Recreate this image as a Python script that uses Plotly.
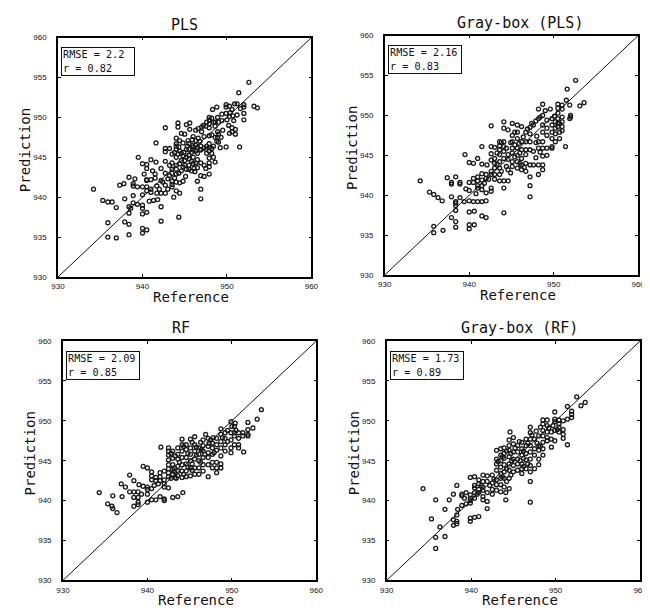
import plotly.graph_objects as go

axis_range = [930, 960]
x_ticks = [930, 940, 950, 960]
y_ticks = [930, 935, 940, 945, 950, 955, 960]

titles = ["PLS", "Gray-box (PLS)", "RF", "Gray-box (RF)"]
rmse_values = ["2.2", "2.16", "2.09", "1.73"]
r_values = ["0.82", "0.83", "0.85", "0.89"]

pls_pts = [
    (934.2, 941.0), (935.3, 939.6), (935.9, 939.4), (936.4, 939.4), (936.9, 938.7), (935.9, 936.8),
    (935.9, 935.0), (936.9, 934.9), (937.3, 941.5), (937.8, 941.7), (938.4, 942.5), (938.9, 941.7),
    (938.9, 941.4), (937.9, 939.8), (938.9, 940.2), (938.4, 938.8), (938.4, 938.0), (937.9, 936.9),
    (938.4, 936.6), (938.4, 935.3), (938.9, 939.3), (939.4, 939.1), (939.5, 945.0), (938.6, 938.6),
    (940.0, 944.2), (940.5, 944.1), (940.5, 943.6), (940.0, 941.3), (940.5, 941.3), (940.0, 940.3),
    (940.5, 940.8), (940.0, 939.0), (940.0, 938.6), (940.0, 937.9), (940.5, 938.1), (940.0, 936.1),
    (940.5, 935.9), (940.0, 935.5), (940.5, 942.2), (940.5, 942.1), (941.0, 941.0), (941.0, 940.6),
    (941.0, 942.2), (940.8, 939.5), (941.3, 939.6), (941.0, 944.7), (941.6, 944.4), (941.6, 946.8),
    (941.5, 942.9), (941.5, 942.4), (941.7, 941.4), (941.7, 940.5), (941.8, 939.7), (942.2, 943.6),
    (942.2, 942.1), (942.0, 941.0), (942.2, 940.5), (942.2, 938.8), (942.2, 937.0), (942.7, 948.7),
    (942.7, 946.1), (942.7, 945.7), (942.7, 944.5), (942.7, 943.0), (942.7, 941.5), (942.7, 940.5),
    (943.0, 942.3), (943.2, 944.0), (943.2, 946.1), (943.5, 945.4), (943.5, 944.3), (943.5, 943.5),
    (943.5, 942.0), (943.5, 941.3), (943.7, 940.0), (943.5, 943.0), (943.2, 942.7), (943.5, 941.6),
    (944.0, 947.4), (944.0, 946.7), (944.0, 946.0), (944.0, 945.0), (944.0, 944.0), (944.0, 943.5),
    (944.0, 942.9), (944.0, 941.9), (944.0, 940.8), (944.2, 949.3), (944.2, 948.8), (944.3, 937.5),
    (944.4, 940.5), (944.4, 941.8), (944.4, 947.1), (944.6, 945.5), (944.6, 944.6), (944.8, 943.8),
    (944.8, 942.0), (944.6, 948.0), (944.8, 946.8), (945.0, 947.9), (945.2, 949.1), (945.2, 945.0),
    (945.2, 943.5), (945.6, 949.3), (945.6, 948.5), (945.4, 947.1), (944.2, 945.4), (944.4, 944.2),
    (944.6, 943.3), (944.0, 946.4), (944.4, 945.8), (944.8, 945.2), (945.0, 944.6), (945.0, 944.0),
    (945.5, 946.7), (945.5, 946.0), (945.5, 945.3), (945.5, 944.8), (945.5, 944.0), (945.5, 943.5),
    (945.8, 943.3), (945.9, 946.5), (946.0, 945.9), (946.0, 945.0), (946.0, 944.2), (946.2, 943.2),
    (946.3, 948.4), (946.3, 947.1), (946.3, 946.5), (946.5, 945.5), (946.5, 942.0), (946.5, 943.7),
    (946.8, 947.0), (946.8, 946.0), (946.9, 941.0), (946.9, 939.8), (946.9, 942.7), (947.0, 948.8),
    (947.0, 948.2), (946.9, 945.9), (946.0, 946.3), (946.3, 945.8), (946.5, 946.2), (945.8, 945.6),
    (946.5, 944.7), (946.3, 944.3), (946.9, 946.4), (946.6, 947.4), (946.0, 947.6), (945.8, 944.5),
    (947.3, 947.6), (947.3, 946.2), (947.5, 948.9), (947.5, 946.0), (947.3, 944.0), (947.5, 943.6),
    (947.9, 950.0), (947.9, 949.7), (947.9, 949.2), (947.9, 948.7), (947.9, 947.7), (947.9, 946.7),
    (947.9, 945.8), (947.9, 944.9), (947.9, 944.3), (947.9, 943.8), (947.9, 942.9), (948.2, 947.8),
    (948.2, 945.5), (948.3, 951.0), (948.4, 949.4), (948.4, 946.4), (948.4, 945.0), (948.6, 948.9),
    (948.6, 947.5), (948.6, 944.4), (947.6, 946.4), (947.9, 946.2), (948.2, 946.1), (947.6, 945.5),
    (948.8, 951.3), (949.0, 949.4), (948.9, 948.2), (948.9, 947.5), (949.0, 946.9), (949.2, 946.2),
    (949.3, 947.5), (949.4, 949.6), (949.5, 948.4), (949.9, 951.6), (949.9, 951.3), (949.9, 950.5),
    (950.0, 949.7), (949.9, 946.3), (950.3, 951.4), (950.3, 950.1), (950.2, 949.0), (950.4, 950.6),
    (950.6, 948.7), (950.6, 948.2), (950.3, 948.0), (950.7, 950.2), (950.9, 951.7), (951.0, 948.5),
    (951.0, 947.9), (950.8, 949.6), (948.6, 949.4), (949.0, 947.9), (948.8, 947.0),
    (951.4, 953.1), (951.5, 946.3), (951.2, 950.3), (951.6, 951.1), (952.0, 951.6), (952.0, 951.3),
    (952.0, 950.5), (952.0, 949.7), (952.6, 954.4), (953.2, 951.4), (953.6, 951.2),
    (943.8, 945.6), (944.3, 946.3), (944.9, 945.6), (945.3, 946.4), (945.9, 947.2), (946.6, 948.6),
    (947.2, 949.0), (947.6, 949.4), (946.1, 943.6), (945.1, 942.6), (944.3, 943.0), (943.8, 942.4),
    (943.0, 941.0), (942.4, 941.9), (941.2, 943.3), (940.2, 942.9), (939.4, 941.3), (939.1, 942.3),
    (948.2, 949.9), (948.9, 950.0), (949.4, 950.4), (950.6, 951.0), (951.2, 951.7), (946.9, 944.3),
    (947.3, 942.6), (945.2, 946.0),
]

gb_pls_pts = [
    (934.2, 941.8), (935.3, 940.4), (935.8, 940.1), (936.3, 939.7), (936.8, 939.3), (935.8, 936.1),
    (935.8, 935.3), (936.9, 935.6), (937.4, 942.2), (937.9, 941.6), (937.9, 941.4), (938.4, 942.3),
    (938.9, 941.6), (938.9, 941.4), (937.9, 939.8), (938.9, 939.7), (938.4, 939.2), (938.4, 939.0),
    (938.4, 938.7), (938.4, 938.1), (937.9, 937.2), (938.4, 936.7), (938.4, 936.0), (939.5, 945.1),
    (940.0, 944.1), (940.5, 944.0), (940.0, 941.6), (940.0, 940.6), (940.0, 939.3), (939.4, 939.2),
    (940.5, 939.2), (941.0, 939.2), (941.5, 939.2), (942.0, 939.3), (940.0, 937.9), (940.6, 938.0),
    (940.0, 936.3), (940.6, 936.3), (940.0, 935.8), (941.5, 937.4), (942.0, 937.2),
    (940.5, 942.1), (940.5, 941.6), (941.0, 942.3), (941.0, 941.8), (941.0, 941.2), (941.0, 940.9),
    (941.5, 942.7), (941.5, 941.9), (941.5, 941.2), (941.5, 940.7), (942.0, 942.6), (942.0, 942.1),
    (942.0, 940.3), (941.5, 946.1), (941.0, 944.6), (941.5, 943.9), (942.1, 943.8),
    (942.6, 948.7), (942.6, 946.1), (942.6, 945.2), (942.6, 944.4), (942.6, 943.0), (942.6, 942.6),
    (942.6, 940.9), (942.6, 940.5), (943.0, 946.0), (943.0, 944.6), (943.0, 944.0), (943.0, 943.4),
    (943.0, 942.6), (943.0, 942.0), (943.6, 946.7), (943.6, 946.2), (943.6, 945.7), (943.6, 945.1),
    (943.6, 943.4), (943.6, 942.6), (943.6, 941.8), (944.1, 946.7), (944.1, 946.1), (944.1, 945.5),
    (944.1, 944.6), (944.1, 941.8), (944.1, 940.9), (944.1, 937.8), (944.1, 949.2), (944.1, 948.4),
    (944.6, 948.2), (944.6, 945.1), (944.6, 943.2), (944.6, 941.8), (943.3, 943.9), (943.6, 944.2),
    (945.1, 949.0), (945.1, 947.5), (945.1, 946.7), (945.1, 945.9), (945.1, 945.3), (945.1, 944.2),
    (945.1, 943.6), (945.7, 948.8), (945.7, 947.9), (945.7, 947.1), (945.7, 945.9), (945.7, 945.0),
    (945.7, 944.2), (945.7, 943.4), (946.2, 948.6), (946.2, 946.7), (946.2, 945.7), (946.2, 944.6),
    (946.2, 943.8), (946.2, 943.2), (946.7, 947.9), (946.7, 946.7), (946.7, 945.7), (946.7, 945.1),
    (946.7, 944.0), (946.7, 943.0), (944.6, 944.5), (945.4, 944.8), (946.0, 945.3), (945.4, 946.3),
    (947.2, 948.5), (947.2, 946.7), (947.2, 945.7), (947.2, 943.8), (947.2, 942.3), (947.2, 941.2),
    (947.2, 939.8), (947.2, 947.7), (947.6, 948.8), (947.6, 945.5), (947.6, 943.8), (948.2, 949.6),
    (948.2, 946.7), (948.2, 945.9), (948.2, 943.8), (948.2, 942.6), (948.7, 950.0), (948.7, 948.8),
    (948.7, 947.9), (948.7, 946.7), (948.7, 945.9), (948.7, 944.9), (948.7, 943.8), (948.7, 943.2),
    (949.2, 949.4), (949.2, 948.4), (949.2, 947.5), (949.2, 945.9), (949.2, 945.0), (949.8, 949.6),
    (949.8, 948.8), (949.8, 947.9), (949.8, 947.1), (949.8, 945.9), (950.2, 949.2), (950.2, 948.4),
    (950.2, 947.7), (950.2, 946.7), (950.7, 949.0), (950.7, 947.9), (950.7, 947.1), (949.8, 946.1),
    (948.2, 950.8), (948.7, 951.4), (947.9, 946.6), (948.0, 947.4), (948.4, 945.4), (947.9, 944.7),
    (950.5, 951.4), (950.5, 950.9), (950.5, 950.3), (950.5, 949.6), (950.5, 949.0), (950.5, 948.6),
    (951.0, 951.3), (951.0, 950.8), (951.0, 949.8), (951.0, 949.2), (951.0, 948.6), (951.0, 948.1),
    (951.5, 951.9), (951.9, 949.6), (951.9, 951.3), (952.0, 950.0), (952.0, 949.8), (951.4, 946.1),
    (951.6, 953.3), (952.6, 954.4), (953.1, 951.2), (953.6, 951.6),
    (943.3, 945.3), (943.8, 946.6), (944.4, 945.9), (944.9, 946.6), (945.4, 947.9), (945.9, 946.5),
    (946.4, 947.3), (946.9, 948.3), (947.4, 949.0), (947.9, 949.3), (943.8, 943.0), (944.4, 943.6),
    (944.9, 942.8), (942.3, 942.0), (941.8, 941.5), (940.8, 940.2), (939.6, 940.8), (948.4, 949.8),
    (949.0, 950.6), (949.6, 950.8), (950.1, 949.9), (946.0, 944.0), (946.5, 943.5),
]

rf_pts = [
    (934.3, 941.0), (935.9, 940.6), (935.3, 939.6), (935.8, 939.3), (935.9, 939.0), (936.4, 938.5),
    (936.9, 942.1), (937.4, 941.7), (937.0, 940.5), (937.9, 943.2), (937.9, 941.1), (938.4, 941.1),
    (938.4, 940.4), (938.4, 939.3), (938.9, 941.1), (938.9, 940.4), (938.9, 939.8), (938.9, 939.5),
    (938.4, 942.5), (939.0, 942.0), (939.5, 944.3), (940.0, 944.1), (939.5, 941.8), (940.0, 941.7),
    (940.0, 941.4), (940.0, 940.8), (940.5, 941.5), (940.5, 943.6), (940.5, 943.1), (940.5, 942.6),
    (940.0, 939.8), (940.5, 940.1), (941.0, 940.1), (941.0, 942.9), (941.0, 942.5), (941.5, 943.5),
    (941.5, 943.0), (941.5, 942.5), (941.6, 946.7), (941.5, 940.5), (942.0, 940.2), (942.0, 940.0),
    (942.0, 943.7), (942.0, 942.6), (942.0, 942.1), (942.0, 941.7), (942.5, 941.6), (942.5, 943.0),
    (943.0, 940.4), (943.6, 940.5), (944.2, 941.0),
    (942.5, 946.6), (942.5, 946.2), (942.5, 945.7), (942.5, 945.1), (942.5, 944.5), (942.5, 944.0),
    (942.5, 943.5), (943.0, 946.2), (943.0, 945.3), (943.0, 944.5), (943.0, 943.9), (943.0, 943.3),
    (943.6, 946.6), (943.6, 945.8), (943.6, 945.2), (943.6, 944.3), (943.6, 943.7), (943.6, 943.1),
    (944.1, 947.7), (944.1, 947.0), (944.1, 946.2), (944.1, 945.4), (944.1, 944.5), (944.1, 943.7),
    (944.1, 942.9), (943.2, 944.1), (943.2, 943.6), (943.4, 942.8),
    (944.6, 947.0), (944.6, 946.4), (944.6, 945.4), (944.6, 944.6), (944.6, 943.7), (944.6, 943.0),
    (945.1, 947.7), (945.1, 946.6), (945.1, 945.8), (945.1, 945.0), (945.1, 944.1), (945.1, 943.1),
    (945.6, 948.0), (945.6, 947.0), (945.6, 946.2), (945.6, 945.2), (945.6, 944.1), (945.6, 943.3),
    (946.1, 946.6), (946.1, 945.8), (946.1, 945.0), (946.1, 944.1), (946.1, 943.3), (945.3, 944.6),
    (946.6, 947.6), (946.6, 946.9), (946.6, 946.2), (946.6, 945.4), (946.6, 944.5), (946.6, 943.7),
    (947.2, 947.8), (947.2, 946.8), (947.2, 946.0), (947.2, 945.4), (947.2, 944.5), (947.2, 943.0),
    (947.7, 947.2), (947.7, 946.6), (947.7, 945.8), (947.7, 944.8), (947.7, 944.1), (948.2, 947.8),
    (948.2, 947.0), (948.2, 946.3), (948.2, 944.8), (948.2, 943.5), (948.2, 944.1), (948.7, 949.0),
    (948.7, 948.3), (948.7, 947.4), (948.7, 946.6), (948.7, 945.6), (948.7, 944.6), (948.7, 944.1),
    (946.9, 948.3), (947.5, 947.6), (947.9, 946.0), (946.4, 946.4),
    (949.2, 948.5), (949.2, 947.8), (949.2, 947.0), (949.2, 946.2), (949.9, 949.9), (949.9, 948.5),
    (949.9, 947.6), (949.9, 946.6), (949.9, 946.0), (950.3, 949.3), (950.3, 948.5), (950.3, 948.1),
    (950.3, 947.0), (950.8, 948.5), (950.8, 947.8), (950.8, 947.0), (950.8, 946.6), (951.3, 948.5),
    (951.3, 948.1), (951.4, 946.1), (951.9, 948.9), (951.9, 948.3), (951.9, 948.1), (951.9, 949.8),
    (952.5, 949.1), (953.0, 950.2), (953.5, 951.4), (950.4, 949.7), (950.0, 949.3), (949.5, 948.8),
    (942.8, 945.9), (943.3, 945.6), (943.8, 944.8), (944.3, 946.8), (944.8, 945.9), (945.3, 947.3),
    (945.8, 946.7), (946.3, 947.3), (946.8, 945.8), (947.3, 947.2), (947.8, 947.9), (944.3, 943.3),
    (944.8, 944.2), (945.3, 943.8), (943.3, 942.9), (942.8, 942.8), (941.3, 942.1), (940.8, 941.9),
    (939.3, 940.8), (949.5, 947.4), (950.5, 948.8), (948.9, 947.9), (946.3, 944.8), (945.8, 945.7),
]

gb_rf_pts = [
    (934.3, 941.5), (935.3, 937.7), (935.8, 940.1), (935.8, 935.4), (935.8, 934.0), (936.3, 936.7),
    (936.9, 938.9), (936.9, 935.5), (937.4, 940.1), (937.9, 940.8), (937.9, 937.6), (937.9, 936.9),
    (938.3, 941.9), (938.3, 938.2), (938.3, 937.4), (938.3, 937.1), (938.4, 938.9), (938.9, 940.8),
    (938.9, 940.6), (938.9, 939.4), (939.4, 939.6), (939.4, 941.0), (939.9, 939.7), (939.9, 942.9),
    (939.9, 940.7), (939.9, 940.3), (939.9, 940.0), (939.9, 937.8), (939.9, 937.4), (940.4, 937.9),
    (940.9, 938.0), (940.4, 943.0), (940.4, 941.9), (940.4, 941.6), (940.4, 941.0), (940.4, 940.3),
    (940.9, 942.6), (940.9, 942.1), (940.9, 941.4), (940.9, 941.0), (941.4, 943.2), (941.4, 942.4),
    (941.4, 941.7), (941.4, 941.3), (941.4, 940.5), (941.4, 940.1), (941.9, 943.1), (941.9, 942.4),
    (941.9, 941.0), (941.9, 939.9), (941.9, 939.0), (942.5, 942.2), (942.5, 941.4), (942.5, 940.8),
    (942.5, 943.2), (943.0, 943.8), (943.0, 946.3), (943.0, 945.2), (943.0, 944.6), (943.0, 942.6),
    (943.0, 942.0), (943.0, 941.3), (943.5, 946.5), (943.5, 945.7), (943.5, 945.0), (943.5, 944.2),
    (943.5, 943.4), (943.5, 942.8), (943.5, 942.0), (943.5, 941.1), (943.9, 946.6), (943.9, 945.9),
    (943.9, 945.3), (943.9, 944.5), (943.9, 943.6), (943.9, 942.8), (943.9, 941.7), (944.1, 941.0),
    (944.1, 940.1), (944.5, 947.6), (944.5, 946.9), (944.5, 946.3), (944.5, 945.5), (944.5, 944.6),
    (944.5, 943.8), (944.5, 942.8), (944.5, 941.5), (945.0, 947.9), (945.0, 947.1), (945.0, 946.1),
    (945.0, 945.2), (945.0, 944.4), (945.0, 943.6), (944.6, 948.6), (944.2, 944.0), (944.8, 945.0),
    (945.5, 946.9), (945.5, 946.1), (945.5, 945.2), (945.5, 944.6), (945.5, 943.8), (946.0, 947.3),
    (946.0, 946.5), (946.0, 945.7), (946.0, 944.6), (946.0, 944.0), (946.0, 943.4), (946.5, 947.7),
    (946.5, 946.9), (946.5, 945.9), (946.5, 945.1), (946.5, 944.0), (945.8, 945.0), (946.2, 945.3),
    (947.0, 949.2), (947.0, 948.5), (947.0, 947.7), (947.0, 946.9), (947.0, 946.1), (947.0, 945.2),
    (947.0, 944.4), (947.0, 943.6), (947.0, 942.4), (947.0, 939.8), (947.5, 947.7), (947.5, 946.5),
    (947.5, 945.7), (947.5, 944.0), (948.0, 948.1), (948.0, 946.9), (948.0, 946.3), (948.0, 945.2),
    (948.0, 944.5), (948.5, 950.1), (948.5, 949.6), (948.5, 948.8), (948.5, 948.1), (948.5, 947.3),
    (948.5, 946.5), (948.5, 945.7), (949.0, 950.1), (949.0, 949.4), (949.0, 948.6), (949.0, 947.9),
    (949.0, 947.5), (949.5, 948.6), (949.5, 947.7), (949.5, 946.7), (947.8, 947.2), (948.2, 946.8),
    (949.9, 951.1), (949.9, 950.2), (949.9, 949.9), (949.9, 948.8), (949.9, 947.5), (950.4, 950.1),
    (950.4, 949.6), (950.4, 949.2), (950.4, 948.6), (950.9, 948.9), (950.9, 948.3), (950.9, 947.8),
    (950.9, 950.0), (951.4, 950.2), (951.4, 947.0), (951.4, 951.8), (951.9, 951.2), (951.9, 950.8),
    (951.9, 950.4), (952.5, 953.0), (953.0, 951.9), (953.5, 952.3),
    (943.2, 944.9), (943.7, 945.5), (944.2, 946.2), (944.7, 945.9), (945.2, 946.6), (945.7, 947.4),
    (946.2, 946.2), (946.7, 947.2), (947.2, 948.2), (947.7, 948.7), (948.2, 949.2), (943.7, 943.0),
    (944.2, 942.4), (944.7, 943.2), (942.7, 942.7), (942.2, 941.9), (941.2, 941.9), (940.7, 940.8),
    (939.2, 940.3), (949.2, 949.1), (949.7, 949.4), (950.2, 948.9), (946.2, 944.3), (946.7, 944.6),
]

panels = [pls_pts, gb_pls_pts, rf_pts, gb_rf_pts]

# The page body has an 8px margin, so the figure is drawn 8px in from the window corner.
OFF = 8
W, H = 650 - OFF, 611 - OFF
# plot-area pixel boxes (left, top, right, bottom) in window coordinates
boxes = [(52, 34, 311, 277), (386, 32, 645, 275), (57, 342, 316, 585), (388, 342, 647, 585)]
title_x = [181.5, 524, 178, 524]


def fx(px):
    return (px - OFF) / W


def fy(py):
    return 1 - (py - OFF) / H


fig = go.Figure()
annotations = []
mono = "DejaVu Sans Mono"
for i, pts in enumerate(panels):
    n = "" if i == 0 else str(i + 1)
    xa, ya = "x" + n, "y" + n
    l, t, r, b = boxes[i]
    fig.add_trace(go.Scatter(
        x=[p[0] for p in pts], y=[p[1] for p in pts], mode="markers",
        marker=dict(symbol="circle-open", size=4, color="#1a1a1a", line=dict(width=1.3, color="#1a1a1a")),
        xaxis=xa, yaxis=ya, showlegend=False, hoverinfo="skip"))
    fig.add_trace(go.Scatter(
        x=axis_range, y=axis_range, mode="lines", line=dict(color="#111", width=1),
        xaxis=xa, yaxis=ya, showlegend=False, hoverinfo="skip"))
    common = dict(range=axis_range, showgrid=False, zeroline=False, showline=True,
                  linecolor="black", linewidth=1.5, mirror="ticks", ticks="inside",
                  ticklen=3, tickcolor="black",
                  tickfont=dict(family="Liberation Sans", size=8, color="#111"))
    fig.update_layout(**{
        ("xaxis" + n): dict(domain=[fx(l), fx(r)], anchor=ya, tickvals=x_ticks,
                            ticklabelstandoff=1, **common),
        ("yaxis" + n): dict(domain=[fy(b), fy(t)], anchor=xa, tickvals=y_ticks,
                            ticklabelstandoff=8, **common),
    })
    annotations.append(dict(text=titles[i], x=fx(title_x[i]), y=fy(t - 13), xref="paper", yref="paper",
                            showarrow=False, xanchor="center", yanchor="middle",
                            font=dict(family=mono, size=15, color="#111")))
    annotations.append(dict(text="Prediction", x=fx(l - 33.5), y=fy((t + b) / 2 - 7.5),
                            xref="paper", yref="paper",
                            showarrow=False, xanchor="center", yanchor="middle", textangle=-90,
                            font=dict(family=mono, size=14, color="#111")))
    annotations.append(dict(text="Reference", x=fx((l + r) / 2 + 6.5), y=fy(b + 20),
                            xref="paper", yref="paper",
                            showarrow=False, xanchor="center", yanchor="middle",
                            font=dict(family=mono, size=14, color="#111")))
    annotations.append(dict(text="RMSE = " + rmse_values[i] + "<br>r = " + r_values[i],
                            x=fx(l + 3), y=fy(t + 10), xref="paper", yref="paper",
                            showarrow=False, xanchor="left", yanchor="top", align="left",
                            width=70, height=25,
                            bordercolor="#111", borderwidth=1, borderpad=1, bgcolor="white",
                            font=dict(family=mono, size=10.2, color="#111")))

fig.update_layout(width=W, height=H, margin=dict(l=0, r=0, t=0, b=0),
                  paper_bgcolor="white", plot_bgcolor="white", annotations=annotations)
fig.write_html("out.html")
